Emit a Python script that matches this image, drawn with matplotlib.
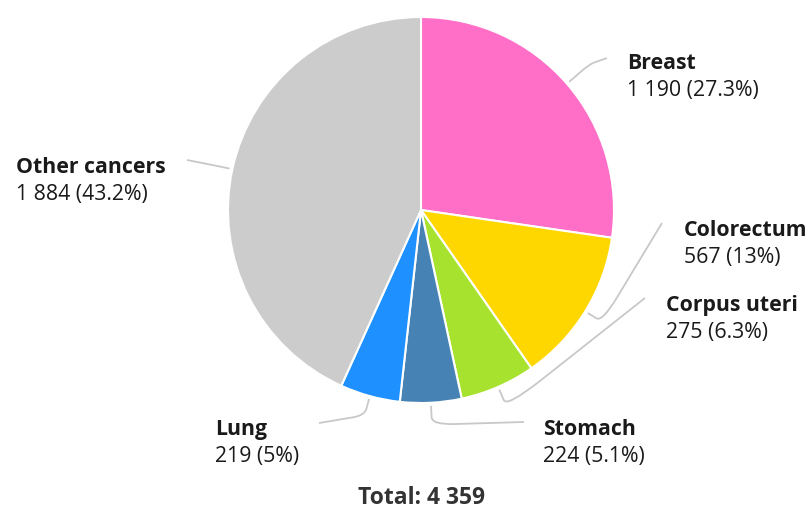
import numpy as np
import matplotlib.pyplot as plt
from matplotlib.path import Path
from matplotlib.patches import PathPatch

plt.rcParams['font.family'] = ['Open Sans', 'DejaVu Sans']

sites = ["Breast", "Colorectum", "Corpus uteri", "Stomach", "Lung", "Other cancers"]
cases = [1190, 567, 275, 224, 219, 1884]
colors = ["#FF6EC7", "#FFD700", "#A6E22E", "#4682B4", "#1E90FF", "#CCCCCC"]

W, H = 806, 512
cx, cy, r = 421, 210, 193
# label anchor (x, baseline of first line) and end of leader line, in pixels from top-left
label_pos = [(627, 69), (684, 236), (666, 311), (543, 435), (215, 435), (16, 173)]
leader_end = [(607, 58), (662, 223), (645, 298), (524, 422), (319, 423), (187, 160)]
elbow_out = [30, 20, 22, 22, 20, 12]

fig = plt.figure(figsize=(W / 100, H / 100), dpi=100)
ax = fig.add_axes([0, 0, 1, 1])

# y axis is flipped below, so start at -90 and go "counterclockwise" = clockwise on screen
wedges, _ = ax.pie(cases, colors=colors, startangle=-90, counterclock=True,
                   center=(cx, cy), radius=r,
                   wedgeprops=dict(edgecolor="white", linewidth=1.5))
ax.set_xlim(0, W)
ax.set_ylim(H, 0)
ax.set_aspect("equal")
ax.axis("off")

total = sum(cases)
for w, name, n, (lx, ly), (ex, ey), eo in zip(wedges, sites, cases, label_pos, leader_end, elbow_out):
    th = np.deg2rad((w.theta1 + w.theta2) / 2)
    d = np.array([np.cos(th), np.sin(th)])
    c = np.array([cx, cy])
    p0 = c + (r + 3) * d
    elbow = c + (r + eo) * d
    end = np.array([ex, ey])
    a = p0 + 0.6 * (elbow - p0)
    b = elbow + 0.25 * (end - elbow)
    path = Path([p0, a, elbow, b, end],
                [Path.MOVETO, Path.LINETO, Path.CURVE3, Path.CURVE3, Path.LINETO])
    ax.add_patch(PathPatch(path, fill=False, edgecolor="#c8c8c8", linewidth=1.3))

    pct = round(100 * n / total, 1)
    pct_txt = f"{pct:g}"
    num_txt = f"{n:,}".replace(",", " ")
    ax.text(lx, ly, name, fontsize=15.3, fontweight="bold", color="#1a1a1a", va="baseline")
    ax.text(lx, ly + 27, f"{num_txt} ({pct_txt}%)", fontsize=15.3, color="#1a1a1a", va="baseline")

ax.text(cx + 1, 504, "Total: " + f"{total:,}".replace(",", " "), fontsize=16.5,
        fontweight="bold", color="#333333", ha="center", va="baseline")

fig.savefig("out.png", dpi=100)
